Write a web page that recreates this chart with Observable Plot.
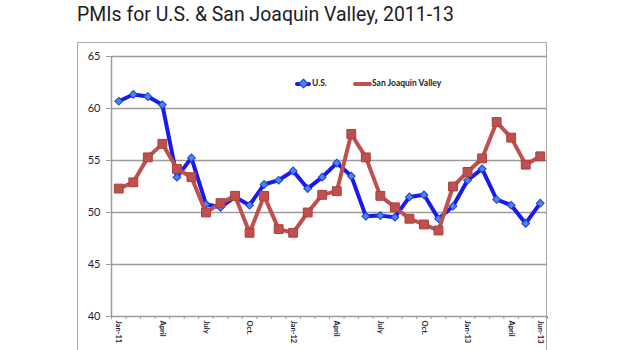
<!DOCTYPE html>
<html>
<head>
<meta charset="utf-8">
<script src="https://cdn.jsdelivr.net/npm/d3@7"></script>
<script src="https://cdn.jsdelivr.net/npm/@observablehq/plot@0.6"></script>
<style>
  html, body { margin: 0; padding: 0; background: #fff; }
  #wrap { position: relative; width: 620px; height: 350px; overflow: hidden; }
  #title { position: absolute; left: 77px; top: 4px; font-family: "Roboto", sans-serif; font-size: 21px; line-height: 1; color: #1c1c24; white-space: nowrap; transform: scaleX(0.926); transform-origin: 0 0; }
  #frame { position: absolute; left: 77px; top: 42px; width: 470px; height: 320px; border: 1.5px solid #ababab; box-sizing: border-box; }
  #chart { position: absolute; left: 0; top: 0; }
  .leg { position: absolute; top: 78px; font-family: Lato, "Liberation Sans", sans-serif; font-weight: bold; font-size: 8.5px; color: #1c1c2c; white-space: nowrap; line-height: 10px; }
  .sw { position: absolute; height: 4.5px; border-radius: 2px; }
  .dia { position: absolute; width: 5px; height: 5px; transform: rotate(45deg); background: #4a86e8; border: 1px solid #1f3fd6; }
</style>
</head>
<body>
<div id="wrap">
  <div id="frame"></div>
  <div id="chart"></div>
  <div id="title">PMIs for U.S. &amp; San Joaquin Valley, 2011-13</div>
  <div class="sw" style="left:295px; top:81.5px; width:16px; background:#1a1aee;"></div>
  <div class="dia" style="left:299.5px; top:80px;"></div>
  <div class="leg" style="left:312px;">U.S.</div>
  <div class="sw" style="left:353px; top:81.5px; width:19px; background:#c0504d;"></div>
  <div class="leg" style="left:372px;">San Joaquin Valley</div>
</div>
<script>
const months = ["Jan-11","Feb-11","Mar-11","Apr-11","May-11","Jun-11","Jul-11","Aug-11","Sep-11","Oct-11","Nov-11","Dec-11",
                "Jan-12","Feb-12","Mar-12","Apr-12","May-12","Jun-12","Jul-12","Aug-12","Sep-12","Oct-12","Nov-12","Dec-12",
                "Jan-13","Feb-13","Mar-13","Apr-13","May-13","Jun-13"];
const usValues = [60.7, 61.35, 61.15, 60.35, 53.4, 55.25, 50.8, 50.5, 51.5, 50.7, 52.7, 53.1,
                  54.0, 52.3, 53.4, 54.75, 53.5, 49.65, 49.7, 49.55, 51.5, 51.7, 49.4, 50.6,
                  53.1, 54.2, 51.25, 50.7, 48.95, 50.9];
const sjvValues = [52.3, 52.9, 55.3, 56.6, 54.2, 53.4, 50.0, 50.9, 51.6, 48.05, 51.6, 48.4,
                   48.05, 50.0, 51.7, 52.05, 57.55, 55.3, 51.6, 50.5, 49.4, 48.85, 48.27, 52.5,
                   53.9, 55.2, 58.7, 57.2, 54.6, 55.4];
const tickLabels = ["Jan-11","April","July","Oct.","Jan-12","April","July","Oct.","Jan-13","April","Jun-13"];
const tickMonths = ["Jan-11","Apr-11","Jul-11","Oct-11","Jan-12","Apr-12","Jul-12","Oct-12","Jan-13","Apr-13","Jun-13"];
const yTicks = [40, 45, 50, 55, 60, 65];

const rows = months.map((m, i) => ({i, month: m, us: usValues[i], sjv: sjvValues[i]}));
const tickIdx = tickMonths.map(m => months.indexOf(m));
const boundaries = d3.range(-0.5, months.length, 1);

const chart = Plot.plot({
  width: 620,
  height: 350,
  marginLeft: 111,
  marginRight: 73,
  marginTop: 56,
  marginBottom: 34,
  style: {background: "transparent", overflow: "visible"},
  x: {type: "linear", domain: [-0.5, months.length - 0.5]},
  y: {domain: [40, 65]},
  marks: [
    Plot.ruleY(yTicks.slice(1), {stroke: "#9c9c9c", strokeWidth: 1.3}),
    Plot.ruleY([40], {stroke: "#9c9c9c", strokeWidth: 1.5}),
    Plot.ruleX([-0.5], {stroke: "#9c9c9c", strokeWidth: 1.5}),
    Plot.axisY({ticks: yTicks, tickSize: 5, tickPadding: 6, stroke: "#9c9c9c", fontSize: 11, fontFamily: "Lato, 'Liberation Sans', sans-serif", fill: "#1a1e38", label: null}),
    Plot.axisX({ticks: boundaries, tickSize: 3, tickFormat: () => "", stroke: "#9c9c9c", label: null}),
    Plot.axisX({ticks: tickIdx, tickSize: 0, tickPadding: 4, tickRotate: 90, textAnchor: "start",
      tickFormat: i => tickLabels[tickIdx.indexOf(i)], fontSize: 7.5, fontWeight: "bold",
      fontFamily: "Lato, 'Liberation Sans', sans-serif", fill: "#1a1e38", label: null}),
    Plot.line(rows, {x: "i", y: "us", stroke: "#1a1aee", strokeWidth: 4}),
    Plot.dot(rows, {x: "i", y: "us", symbol: "square", rotate: 45, r: 3.1, fill: "#4a86e8", stroke: "#1f3fd6", strokeWidth: 1}),
    Plot.line(rows, {x: "i", y: "sjv", stroke: "#c0504d", strokeWidth: 4}),
    Plot.dot(rows, {x: "i", y: "sjv", symbol: "square", r: 5, fill: "#c0504d", stroke: "#a8403d", strokeWidth: 1})
  ]
});
document.getElementById("chart").appendChild(chart);
</script>
</body>
</html>
